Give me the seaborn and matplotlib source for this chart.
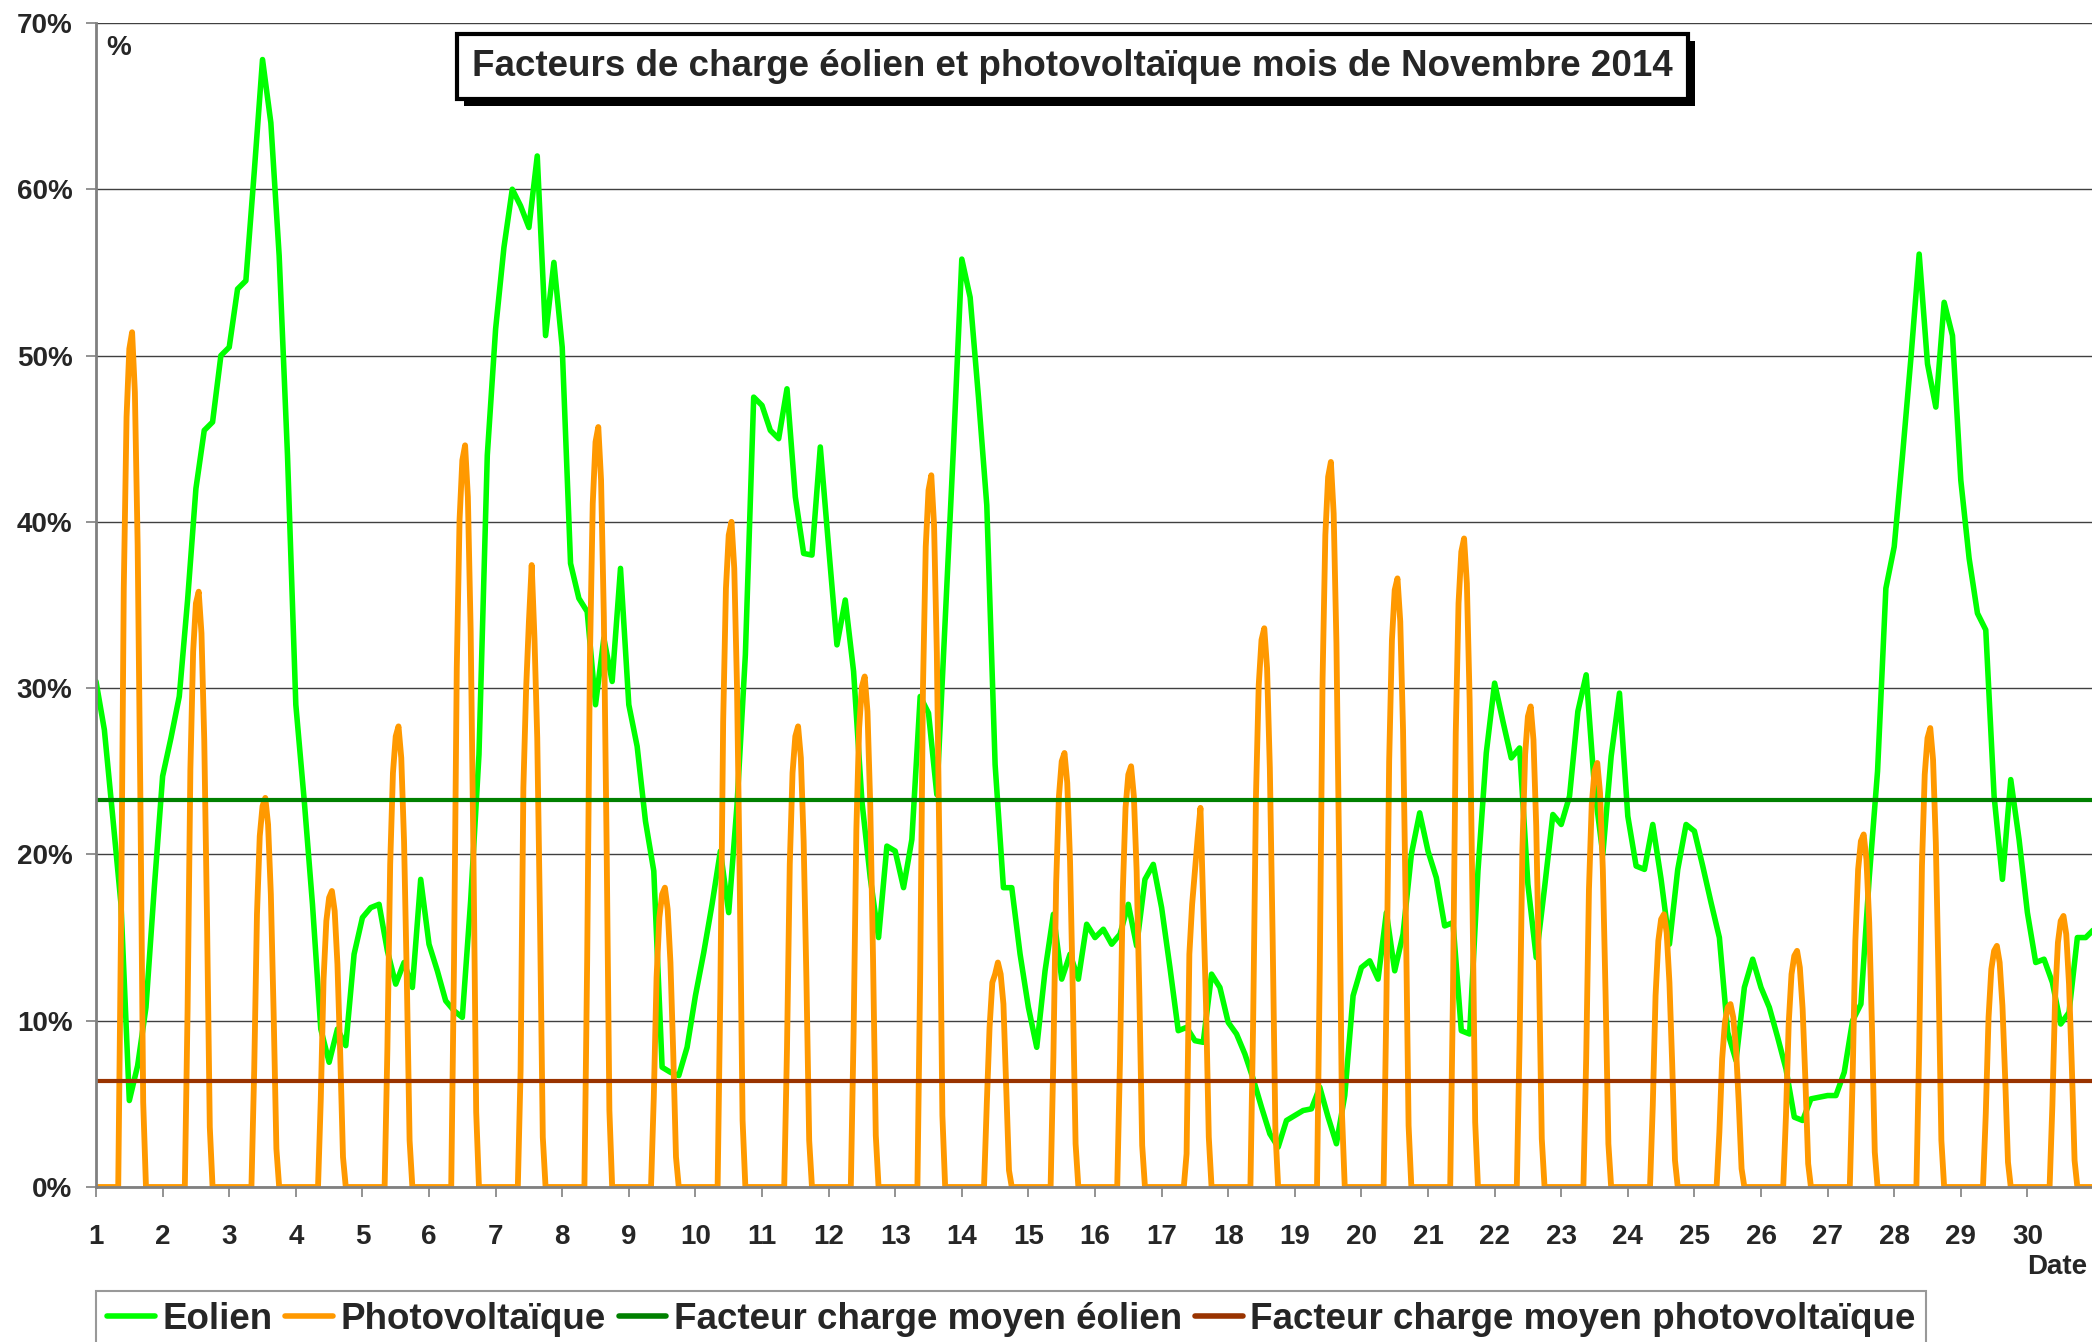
import numpy as np
import seaborn as sns
import matplotlib.pyplot as plt
import matplotlib.patheffects as pe

# Facteurs de charge, novembre 2014 (en %)
jours = list(range(1, 31))

# éolien : une valeur toutes les 3 heures, du 1er à 0h au 31 à 0h
eolien_3h = [
    30.4, 27.5, 22.3, 17.0, 5.2, 7.3, 10.8, 18.0,      # 1
    24.7, 27.0, 29.5, 35.3, 42.0, 45.5, 46.0, 50.0,    # 2
    50.5, 54.0, 54.5, 61.0, 67.8, 64.0, 56.0, 44.0,    # 3
    29.0, 23.3, 17.0, 9.5, 7.5, 9.5, 8.5, 14.0,        # 4
    16.2, 16.8, 17.0, 14.2, 12.2, 13.5, 12.0, 18.5,    # 5
    14.6, 13.0, 11.2, 10.6, 10.2, 17.2, 26.0, 44.0,    # 6
    51.6, 56.5, 60.0, 59.0, 57.7, 62.0, 51.2, 55.6,    # 7
    50.5, 37.5, 35.4, 34.6, 29.0, 33.0, 30.4, 37.2,    # 8
    29.0, 26.5, 22.0, 19.0, 7.2, 6.9, 6.7, 8.4,        # 9
    11.5, 14.1, 17.0, 20.2, 16.5, 23.0, 32.0, 47.5,    # 10
    47.0, 45.5, 45.0, 48.0, 41.5, 38.1, 38.0, 44.5,    # 11
    38.5, 32.6, 35.3, 31.0, 23.2, 18.6, 15.0, 20.5,    # 12
    20.2, 18.0, 20.9, 29.5, 28.5, 23.6, 34.0, 44.5,    # 13
    55.8, 53.5, 47.5, 41.0, 25.4, 18.0, 18.0, 14.0,    # 14
    10.8, 8.4, 13.0, 16.4, 12.5, 14.0, 12.5, 15.8,     # 15
    15.0, 15.5, 14.6, 15.2, 17.0, 14.5, 18.5, 19.4,    # 16
    16.8, 13.2, 9.4, 9.6, 8.8, 8.7, 12.8, 12.0,        # 17
    9.9, 9.2, 8.0, 6.5, 4.8, 3.2, 2.4, 4.0,            # 18
    4.3, 4.6, 4.7, 6.0, 4.2, 2.6, 5.5, 11.5,           # 19
    13.2, 13.6, 12.5, 16.5, 13.0, 15.2, 20.0, 22.5,    # 20
    20.2, 18.6, 15.7, 15.9, 9.4, 9.2, 19.0, 26.1,      # 21
    30.3, 28.0, 25.8, 26.4, 18.2, 13.8, 18.0, 22.4,    # 22
    21.8, 23.5, 28.6, 30.8, 24.0, 20.0, 25.9, 29.7,    # 23
    22.3, 19.3, 19.1, 21.8, 18.5, 14.6, 19.1, 21.8,    # 24
    21.4, 19.3, 17.1, 15.0, 9.3, 7.6, 12.0, 13.7,      # 25
    12.0, 10.8, 9.0, 7.1, 4.2, 4.0, 5.3, 5.4,          # 26
    5.5, 5.5, 6.9, 10.0, 11.0, 18.6, 25.0, 36.0,       # 27
    38.5, 44.0, 49.8, 56.1, 49.5, 46.9, 53.2, 51.2,    # 28
    42.5, 37.8, 34.5, 33.5, 23.5, 18.5, 24.5, 20.9,    # 29
    16.5, 13.5, 13.7, 12.3, 9.8, 10.5, 15.0, 15.0,     # 30
    15.5,
]

# photovoltaïque : valeurs horaires de 8h à 17h, zéro le reste du temps
pv_heures = list(range(8, 18))
pv_jours = [
    [0, 15.4, 36.0, 46.3, 50.4, 51.4, 47.8, 38.6, 23.1, 5.1],
    [0, 10.7, 25.1, 32.2, 35.1, 35.8, 33.3, 26.9, 16.1, 3.6],
    [0, 7.0, 16.4, 21.1, 22.9, 23.4, 21.8, 17.6, 10.5, 2.3],
    [0, 5.3, 12.5, 16.0, 17.4, 17.8, 16.6, 13.4, 8.0, 1.8],
    [0, 8.3, 19.4, 24.9, 27.1, 27.7, 25.8, 20.8, 12.5, 2.8],
    [0, 13.4, 31.2, 40.1, 43.7, 44.6, 41.5, 33.5, 20.1, 4.5],
    [0, 7.0, 24.0, 30.0, 34.0, 37.4, 33.0, 27.0, 16.0, 3.0],
    [0, 13.7, 32.0, 41.1, 44.8, 45.7, 42.5, 34.3, 20.6, 4.6],
    [0, 5.4, 12.6, 16.2, 17.6, 18.0, 16.7, 13.5, 8.1, 1.8],
    [0, 12.0, 28.0, 36.0, 39.2, 40.0, 37.2, 30.0, 18.0, 4.0],
    [0, 8.3, 19.4, 24.9, 27.1, 27.7, 25.8, 20.8, 12.5, 2.8],
    [0, 9.2, 21.5, 27.6, 30.1, 30.7, 28.6, 23.0, 13.8, 3.1],
    [0, 12.8, 30.0, 38.5, 41.9, 42.8, 39.8, 32.1, 19.3, 4.3],
    [0, 5.0, 9.6, 12.3, 12.8, 13.5, 12.8, 11.0, 6.0, 1.0],
    [0, 7.8, 18.3, 23.5, 25.6, 26.1, 24.3, 19.6, 11.7, 2.6],
    [0, 7.6, 17.7, 22.8, 24.8, 25.3, 23.5, 19.0, 11.4, 2.5],
    [0, 2.0, 14.0, 17.0, 19.0, 21.0, 22.8, 17.0, 11.0, 3.0],
    [0, 10.1, 23.5, 30.2, 32.9, 33.6, 31.2, 25.2, 15.1, 3.4],
    [0, 13.1, 30.5, 39.2, 42.7, 43.6, 40.5, 32.7, 19.6, 4.4],
    [0, 11.0, 25.6, 32.9, 35.9, 36.6, 34.0, 27.5, 16.5, 3.7],
    [0, 11.7, 27.3, 35.1, 38.2, 39.0, 36.3, 29.3, 17.6, 3.9],
    [0, 8.7, 20.2, 26.0, 28.3, 28.9, 26.9, 21.7, 13.0, 2.9],
    [0, 7.7, 17.9, 23.0, 25.0, 25.5, 23.7, 19.1, 11.5, 2.6],
    [0, 4.9, 11.5, 14.8, 16.1, 16.4, 15.3, 12.3, 7.4, 1.6],
    [0, 3.3, 7.7, 9.9, 10.8, 11.0, 10.2, 8.3, 5.0, 1.1],
    [0, 4.3, 9.9, 12.8, 13.9, 14.2, 13.2, 10.7, 6.4, 1.4],
    [0, 6.4, 14.8, 19.1, 20.8, 21.2, 19.7, 15.9, 9.5, 2.1],
    [0, 8.3, 19.3, 24.8, 27.0, 27.6, 25.7, 20.7, 12.4, 2.8],
    [0, 4.4, 10.2, 13.1, 14.2, 14.5, 13.5, 10.9, 6.5, 1.5],
    [0, 4.9, 11.4, 14.7, 16.0, 16.3, 15.2, 12.2, 7.3, 1.6],
]

moyen_eolien = 23.3
moyen_pv = 6.4

# séries sur l'axe des jours
t_eol = 1 + np.arange(len(eolien_3h)) * 3 / 24
pv = np.zeros(len(jours) * 24 + 1)
for i, vals in enumerate(pv_jours):
    for h, v in zip(pv_heures, vals):
        pv[i * 24 + h] = v
t_pv = 1 + np.arange(len(pv)) / 24

sns.set_style('white')
plt.rcParams['font.family'] = ['Liberation Sans', 'DejaVu Sans']
plt.rcParams['font.weight'] = 'bold'

fig = plt.figure(figsize=(20.92, 13.42), dpi=100)
ax = fig.add_axes([0.0459, 0.1155, 0.9541, 0.8674])

sns.lineplot(x=t_eol, y=eolien_3h, ax=ax, color='#00ff00', lw=4.0, label='Eolien')
sns.lineplot(x=t_pv, y=pv, ax=ax, color='#ff9900', lw=4.2, label='Photovoltaïque')
ax.axhline(moyen_eolien, color='#008000', lw=3.0, label='Facteur charge moyen éolien')
ax.axhline(moyen_pv, color='#993300', lw=3.0, label='Facteur charge moyen photovoltaïque')
handles, labels = ax.get_legend_handles_labels()
ax.get_legend().remove()

ax.set_xlim(1, 30.97)
ax.set_ylim(0, 70)
ax.set_xticks(jours)
ax.set_yticks(range(0, 71, 10))
ax.set_yticklabels([f'{v}%' for v in range(0, 71, 10)])
ax.set_xlabel('')
ax.set_ylabel('')
ax.yaxis.grid(True, color='#404040', lw=1.0)
ax.xaxis.grid(False)
for s in ['top', 'right']:
    ax.spines[s].set_visible(False)
for s in ['left', 'bottom']:
    ax.spines[s].set_color('#808080')
    ax.spines[s].set_linewidth(2)
ax.tick_params(axis='y', direction='out', length=7, width=1.2, color='#808080',
               labelsize=20, pad=10, left=True)
ax.tick_params(axis='x', direction='out', length=7, width=1.2, color='#808080',
               labelsize=20, pad=20, bottom=True)

t = fig.text(0.5127, 0.9505, 'Facteurs de charge éolien et photovoltaïque mois de Novembre 2014',
             ha='center', va='center', fontsize=26.5, fontweight='bold',
             bbox=dict(boxstyle='square,pad=0.4', fc='white', ec='black', lw=3))
t.get_bbox_patch().set_path_effects([pe.withSimplePatchShadow(offset=(5, -5), shadow_rgbFace='black', alpha=1)])

fig.text(0.0507, 0.9645, '%', ha='left', va='center', fontsize=20, fontweight='bold')
fig.text(0.9976, 0.0560, 'Date', ha='right', va='center', fontsize=20, fontweight='bold')

leg = fig.legend(handles, labels, loc='upper left', bbox_to_anchor=(0.0459, 0.038),
                 ncol=4, fontsize=26.5, frameon=True, fancybox=False, borderaxespad=0,
                 handlelength=1.3, handletextpad=0.2, columnspacing=0.35, borderpad=0.3)
leg.get_frame().set_edgecolor('#808080')
leg.get_frame().set_linewidth(1.5)
for line in leg.get_lines():
    line.set_linewidth(4)

fig.savefig('out.png', dpi=100)
